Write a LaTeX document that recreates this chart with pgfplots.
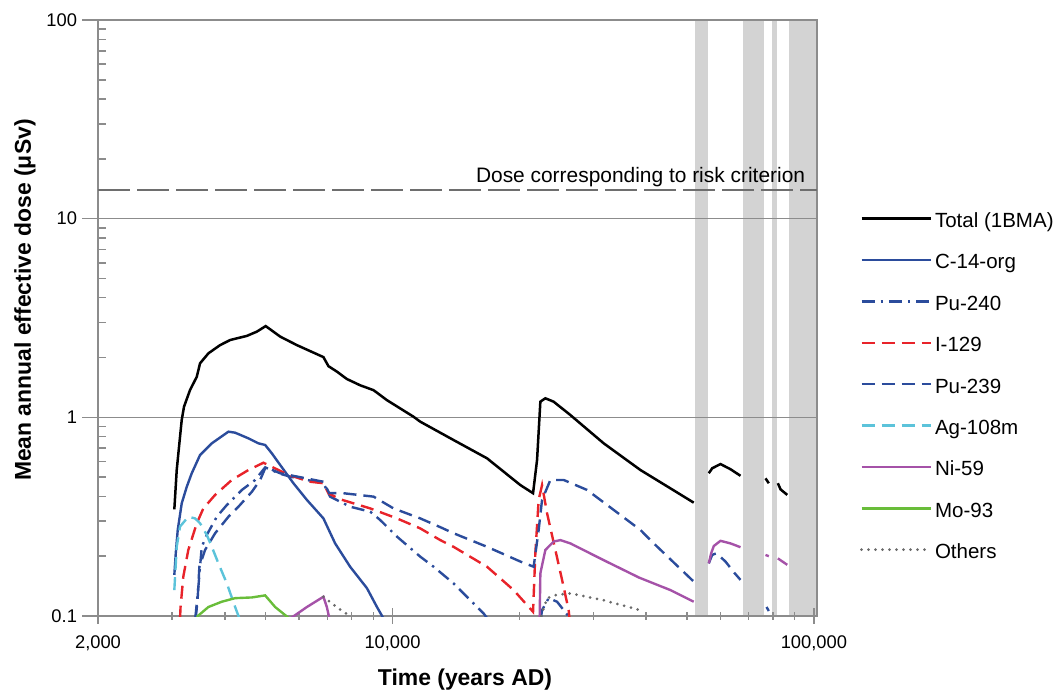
\documentclass[border=0pt]{standalone}
\usepackage{fontspec}
\setmainfont{Liberation Sans}
\usepackage{pgfplots}
\pgfplotsset{compat=1.18}

\definecolor{axisgray}{HTML}{8C8C8C}
\definecolor{bandgray}{HTML}{D3D3D3}
\definecolor{riskgray}{HTML}{6E6E6E}
\definecolor{cblue}{HTML}{2B4C9C}
\definecolor{ired}{HTML}{E8232A}
\definecolor{aglight}{HTML}{5CC3DA}
\definecolor{nipurple}{HTML}{A552A8}
\definecolor{mogreen}{HTML}{69BD3A}
\definecolor{othgray}{HTML}{6A6A6A}

\begin{document}
\begin{tikzpicture}
\begin{axis}[
    set layers,
    at={(49bp,38.5bp)}, anchor=south west,
    scale only axis,
    width=359.5bp, height=298bp,
    xmode=log, ymode=log,
    xmin=2000, xmax=101700,
    ymin=0.1, ymax=100,
    xtick={2000,10000,100000},
    xticklabels={{2,000},{10,000},{100,000}},
    minor xtick={3000,4000,5000,6000,7000,8000,9000,20000,30000,40000,50000,60000,70000,80000,90000},
    ytick={0.1,1,10,100},
    yticklabels={0.1,1,10,100},
    minor ytick={0.2,0.3,0.4,0.5,0.6,0.7,0.8,0.9,2,3,4,5,6,7,8,9,20,30,40,50,60,70,80,90},
    extra y ticks={0.1,1,10,100},
    extra y tick labels={},
    extra y tick style={ytick align=outside, grid=none},
    tick pos=left,
    xtick align=center, ytick align=inside,
    major tick length=8bp, minor tick length=4bp,
    tick style={draw=axisgray, line width=0.75bp},
    axis line style={draw=axisgray, line width=1bp},
    ymajorgrids,
    major grid style={draw=axisgray, line width=0.8bp},
    xticklabel style={font=\fontsize{9.2}{11}\selectfont, yshift=-2.5bp},
    yticklabel style={font=\fontsize{9.2}{11}\selectfont, xshift=-7bp},
    xlabel={Time (years AD)},
    ylabel={Mean annual effective dose (μSv)},
    every axis x label/.style={at={(axis description cs:0.5104,-0.1158)}, anchor=base,
        font=\fontsize{11.5}{13}\selectfont\bfseries},
    every axis y label/.style={at={(axis description cs:-0.1015,0.53)}, rotate=90, anchor=center,
        font=\fontsize{11.5}{13}\selectfont\bfseries},
    unbounded coords=jump,
    legend style={
        at={(axis description cs:1.0598,0.6772)}, anchor=north west,
        draw=none, fill=none, inner sep=0pt, outer sep=0pt,
        row sep=11bp, column sep=1.5bp,
        font=\fontsize{10.3}{12}\selectfont,
        nodes={inner sep=0pt, text height=7.5bp, text depth=2.2bp},
        cells={anchor=west},
    },
    legend image code/.code={\draw[#1] (0bp,1.8bp) -- (34.5bp,1.8bp);},
    every axis plot/.append style={line width=1.2bp},
]

% grey bands
\addplot[fill=bandgray, draw=none, forget plot, on layer=axis background]
    coordinates {(52170,0.1) (52170,100) (56100,100) (56100,0.1)};
\addplot[fill=bandgray, draw=none, forget plot, on layer=axis background]
    coordinates {(67920,0.1) (67920,100) (76050,100) (76050,0.1)};
\addplot[fill=bandgray, draw=none, forget plot, on layer=axis background]
    coordinates {(79580,0.1) (79580,100) (81520,100) (81520,0.1)};
\addplot[fill=bandgray, draw=none, forget plot, on layer=axis background]
    coordinates {(87180,0.1) (87180,100) (101700,100) (101700,0.1)};

% risk criterion
\addplot[riskgray, line width=0.9bp, dash pattern=on 16bp off 3.5bp, forget plot]
    coordinates {(2000,14) (101700,14)};
\node[anchor=base east, inner sep=0pt, font=\fontsize{10.5}{12}\selectfont]
    at (axis cs:95500,15.2) {Dose corresponding to risk criterion};

% Total (1BMA)
\addplot[black, line width=1.25bp] coordinates {
(3035,0.344) (3075,0.543) (3114,0.711) (3160,0.970) (3200,1.131) (3307,1.373)
(3431,1.60) (3493,1.87) (3656,2.10) (3898,2.31) (4117,2.45) (4510,2.57)
(4764,2.70) (5000,2.88) (5411,2.55) (5928,2.31) (6855,2.01) (7045,1.81)
(7376,1.70) (7791,1.56) (8379,1.45) (9015,1.37) (9701,1.22) (11216,1.007)
(11635,0.951) (13956,0.769) (16760,0.622) (20108,0.456) (21550,0.415)
(22027,0.610) (22428,1.199) (23050,1.247) (24119,1.199) (26425,1.027)
(31706,0.740) (38762,0.543) (45657,0.439) (51858,0.372)
(53000,nan)
(56296,0.523) (57353,0.554) (60016,0.582) (63386,0.548) (66949,0.508)
(70000,nan)
(76770,0.493) (78168,0.466)
(80000,nan)
(82110,0.466) (83330,0.434) (86440,0.407)
};
\addlegendentry{Total (1BMA)}

% C-14-org
\addplot[cblue] coordinates {
(3035,0.161) (3059,0.207) (3092,0.271) (3160,0.369) (3248,0.447) (3338,0.523)
(3493,0.646) (3725,0.740) (4079,0.847) (4231,0.837) (4550,0.784) (4806,0.740)
(4985,0.726) (5171,0.659) (5411,0.576) (5818,0.466) (6263,0.384) (6855,0.310)
(7308,0.232) (7933,0.177) (8696,0.138) (9184,0.111) (9522,0.097)
};
\addlegendentry{C-14-org}

% Pu-240
\addplot[cblue, dash pattern=on 6.5bp off 3bp on 1.2bp off 3bp] coordinates {
(3405,0.098) (3461,0.140) (3493,0.177) (3526,0.223) (3624,0.256) (3828,0.316)
(4043,0.362) (4389,0.431) (4720,0.484) (4985,0.56) (5411,0.52) (5714,0.503)
(6855,0.466) (7111,0.399) (7933,0.355) (8854,0.335) (9351,0.304) (10244,0.251)
(11635,0.199) (12515,0.177) (13956,0.146) (16451,0.103) (16800,0.097)
(20000,nan)
(22480,0.097) (22637,0.107) (23469,0.123) (24572,0.118) (26425,0.097)
};
\addlegendentry{Pu-240}

% I-129
\addplot[ired, dash pattern=on 6.5bp off 3.5bp] coordinates {
(3131,0.097) (3140,0.111) (3188,0.158) (3276,0.215) (3431,0.293) (3557,0.348)
(3793,0.407) (4155,0.484) (4550,0.543) (4939,0.591) (5361,0.543) (5661,0.513)
(6377,0.474) (6855,0.466) (7045,0.415) (7511,0.387) (8854,0.348) (10244,0.310)
(11635,0.276) (12982,0.241) (13956,0.223) (16760,0.177) (19385,0.135)
(21550,0.105) (21823,0.207) (22220,0.384) (22637,0.456) (23265,0.329)
(24344,0.215) (25253,0.152) (26181,0.107) (26300,0.097)
};
\addlegendentry{I-129}

% Pu-239
\addplot[cblue, dash pattern=on 6.5bp off 3.5bp] coordinates {
(3410,0.097) (3446,0.120) (3480,0.177) (3590,0.215) (3793,0.261) (4079,0.316)
(4308,0.355) (4636,0.422) (4851,0.484) (5000,0.562) (5411,0.523) (6855,0.474)
(7072,0.416) (7648,0.415) (9015,0.399) (10055,0.348) (11635,0.310) (12982,0.280)
(13956,0.261) (16760,0.223) (20108,0.188) (21621,0.177) (22220,0.271)
(22637,0.384) (23688,0.484) (25475,0.484) (28946,0.431) (33489,0.342)
(38762,0.271) (41683,0.232) (51858,0.149)
(53000,nan)
(56296,0.184) (57353,0.203) (58718,0.207) (61678,0.188) (64893,0.164) (66949,0.152)
(70000,nan)
(77192,0.111) (78168,0.106)
};
\addlegendentry{Pu-239}

% Ag-108m
\addplot[aglight, dash pattern=on 6.5bp off 3.5bp] coordinates {
(3035,0.135) (3075,0.223) (3131,0.282) (3276,0.316) (3399,0.310) (3493,0.293)
(3624,0.256) (3725,0.223) (3862,0.184) (4043,0.146) (4231,0.111) (4348,0.095)
};
\addlegendentry{Ag-108m}

% Ni-59
\addplot[nipurple] coordinates {
(5714,0.097) (6263,0.111) (6855,0.125) (6984,0.111) (7084,0.097)
(15000,nan)
(22342,0.097) (22428,0.164) (23050,0.215) (24119,0.237) (25019,0.241)
(26425,0.232) (31706,0.191) (38500,0.156) (45657,0.135) (51858,0.118)
(53000,nan)
(56296,0.184) (57040,0.207) (57857,0.225) (60016,0.239) (63386,0.232) (66949,0.222)
(70000,nan)
(76770,0.203) (78168,0.200)
(80000,nan)
(82110,0.195) (86440,0.181)
};
\addlegendentry{Ni-59}

% Mo-93
\addplot[mogreen] coordinates {
(3431,0.099) (3656,0.111) (3934,0.118) (4231,0.123) (4636,0.124) (4985,0.127)
(5265,0.111) (5661,0.098)
};
\addlegendentry{Mo-93}

% Others
\addplot[othgray, line width=1.5bp, line cap=round, dash pattern=on 0bp off 3.5bp] coordinates {
(6855,0.125) (7240,0.114) (7648,0.105) (7933,0.100)
(15000,nan)
(22514,0.100) (23265,0.123) (24572,0.128) (26425,0.130) (31706,0.120) (38762,0.107)
};
\addlegendentry{Others}

\end{axis}
\path (0,0) rectangle (530bp,346.5bp);
\end{tikzpicture}
\end{document}
